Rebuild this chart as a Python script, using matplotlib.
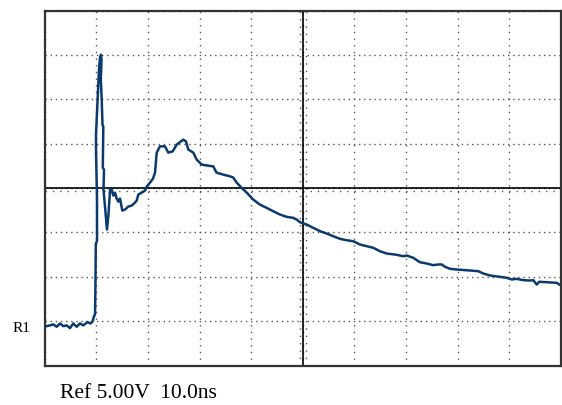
import numpy as np
import matplotlib.pyplot as plt

# scope settings: 10 ns/div, 5 V/div, 10 x 8 divisions
time_per_div = 10.0
volts_per_div = 5.0
n_xdiv = 10
n_ydiv = 8

# trace R1 (time in ns, voltage in V, centre = 0 V)
t_ns = [0.39, 1.03, 1.67, 2.33, 2.97, 3.60, 4.26, 4.90, 5.54, 6.20,
        6.84, 7.48, 8.26, 8.91, 9.30, 9.55, 9.75, 9.84, 9.90, 9.90,
        10.14, 10.14, 9.94, 9.94, 10.14, 10.33, 10.52, 10.72, 10.91, 11.01,
        10.87, 11.05, 11.20, 11.36, 11.26, 11.49, 11.40, 11.69, 12.07, 12.36,
        12.66, 12.98, 13.29, 13.62, 13.95, 14.26, 14.59, 15.04, 15.56, 16.20,
        16.86, 17.50, 17.83, 18.14, 18.80, 19.44, 19.77, 20.41, 20.99, 21.38,
        21.71, 22.34, 23.31, 23.95, 24.81, 25.58, 26.86, 27.38, 27.83, 28.80,
        29.46, 30.43, 31.65, 32.67, 33.29, 34.61, 35.91, 36.55, 37.21, 38.18,
        39.15, 40.43, 41.72, 43.02, 44.30, 45.60, 46.90, 48.18, 48.84, 49.48,
        50.78, 52.05, 53.35, 54.65, 55.93, 57.23, 58.53, 59.81, 61.10, 62.40,
        63.68, 64.98, 66.28, 67.89, 69.50, 70.16, 71.43, 72.73, 74.03, 75.31,
        76.28, 76.94, 77.58, 78.55, 79.84, 81.78, 84.03, 85.00, 86.30, 88.24,
        89.53, 90.50, 91.47, 92.75, 94.05, 94.69, 95.35, 95.85, 97.29, 99.22,
        99.73]
v_volts = [-15.56, -15.48, -15.37, -15.63, -15.26, -15.56, -15.48, -15.79, -15.26, -15.63,
           -15.26, -15.48, -15.11, -15.26, -15.00, -14.44, -14.25, -10.64, -6.93, -6.36,
           -5.91, -1.30, 4.34, 6.03, 8.61, 11.09, 13.34, 14.70, 15.03, 14.47,
           12.22, 9.97, 7.15, 6.93, 2.31, 2.08, -0.17, -2.08, -4.67, -2.98,
           -0.17, -0.17, -0.84, -0.51, -1.18, -1.52, -1.18, -2.53, -2.42, -2.08,
           -1.97, -1.63, -1.41, -0.73, -0.51, -0.28, 0.17, 0.62, 1.07, 1.75,
           4.00, 4.71, 4.71, 4.00, 4.14, 4.90, 5.46, 5.27, 4.34, 4.00,
           3.21, 2.65, 2.53, 2.45, 1.75, 1.52, 1.33, 1.18, 0.62, 0.02,
           -0.51, -1.30, -1.86, -2.23, -2.61, -2.98, -3.24, -3.36, -3.55, -3.85,
           -4.11, -4.48, -4.86, -5.12, -5.43, -5.72, -5.88, -5.99, -6.36, -6.55,
           -6.73, -7.12, -7.38, -7.49, -7.68, -7.60, -7.86, -8.36, -8.50, -8.69,
           -8.61, -8.61, -8.87, -9.10, -9.18, -9.26, -9.37, -9.63, -9.85, -10.00,
           -10.11, -10.30, -10.23, -10.38, -10.42, -10.38, -10.87, -10.56, -10.61, -10.68,
           -10.87]

channel_label = "R1"
scale_label = "Ref 5.00V  10.0ns"

x_max = time_per_div * n_xdiv
y_half = volts_per_div * n_ydiv / 2

fig = plt.figure(figsize=(5.62, 4.05), dpi=100)
ax = fig.add_axes([44.7 / 562, 39.5 / 405, 516 / 562, 354.8 / 405])

ax.set_xlim(0, x_max)
ax.set_ylim(-y_half, y_half)
ax.set_xticks(np.arange(0, x_max + 1, time_per_div))
ax.set_yticks(np.arange(-y_half, y_half + 1, volts_per_div))
ax.tick_params(length=0, labelbottom=False, labelleft=False)
ax.grid(True, axis='x', color='#555555', linestyle=(0, (1, 3.8)), linewidth=1.0)
ax.grid(True, axis='y', color='#555555', linestyle=(0, (1, 2.7)), linewidth=1.0)

# solid centre graticule with its small subdivision marks
ax.axhline(0, color='black', lw=1.2, zorder=2)
ax.axvline(x_max / 2, color='black', lw=1.2, zorder=2)
dx = 0.6   # ~3 px either side of the centre line
dy = 0.35
for off in (-dx, dx):
    ax.axvline(x_max / 2 + off, color='#555555', lw=1.0,
               linestyle=(0, (1, 4.3)), zorder=1)
ax.axhline(-dy, color='#555555', lw=1.0, linestyle=(0, (1, 4.3)), zorder=1)

for s in ax.spines.values():
    s.set_color('#333333')
    s.set_linewidth(1.6)

ax.plot(t_ns, v_volts, color='#0b3a6e', lw=1.8, zorder=3)

serif = ['Liberation Serif', 'DejaVu Serif']
fig.text(13 / 562, 1 - 328 / 405, channel_label, ha='left', va='center',
         fontsize=11, family=serif)
fig.text(60 / 562, 1 - 398 / 405, scale_label, ha='left', va='baseline',
         fontsize=15.5, family=serif)

fig.savefig('out.png', dpi=100)
